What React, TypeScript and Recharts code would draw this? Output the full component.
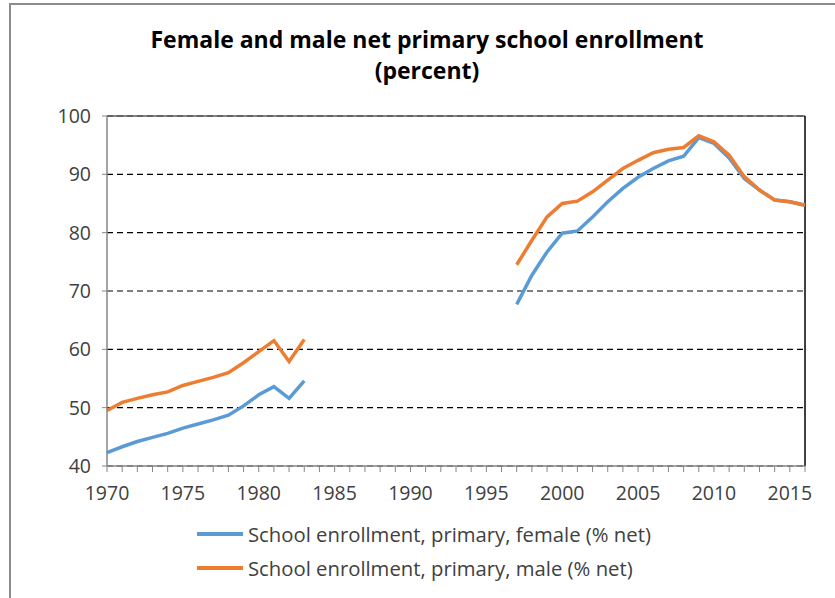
import React from 'react';
import {
  LineChart,
  Line,
  XAxis,
  YAxis,
  CartesianGrid,
  ReferenceLine,
} from 'recharts';

// years shown on the axis (one tick per year)
const years: number[] = [];
for (let y = 1970; y <= 2016; y++) years.push(y);

// 1970-1983
const femaleEarly = [42.3, 43.3, 44.2, 44.9, 45.6, 46.5, 47.2, 47.9, 48.7, 50.3, 52.2, 53.6, 51.6, 54.6];
const maleEarly = [49.5, 50.9, 51.6, 52.2, 52.7, 53.8, 54.5, 55.2, 56.0, 57.7, 59.6, 61.5, 57.9, 61.7];

// 1997-2016
const femaleLate = [67.7, 72.7, 76.7, 79.9, 80.3, 82.7, 85.3, 87.6, 89.5, 91.0, 92.3, 93.1, 96.3, 95.3, 92.8, 89.3, 87.3, 85.6, 85.3, 84.7];
const maleLate = [74.5, 78.7, 82.7, 85.0, 85.4, 87.0, 89.0, 91.0, 92.4, 93.7, 94.3, 94.6, 96.6, 95.6, 93.3, 89.6, 87.3, 85.6, 85.3, 84.7];

const yTicks = [40, 50, 60, 70, 80, 90, 100];

const data = years.map((year) => {
  let female: number | null = null;
  let male: number | null = null;
  if (year <= 1983) {
    female = femaleEarly[year - 1970];
    male = maleEarly[year - 1970];
  } else if (year >= 1997) {
    female = femaleLate[year - 1997];
    male = maleLate[year - 1997];
  }
  return { year, female, male };
});

const BLUE = '#5B9BD5';
const ORANGE = '#ED7D31';
const TEXT = '#404040';
const FONT = '"Open Sans", Calibri, sans-serif';

export default function App() {
  return (
    <div
      style={{
        position: 'absolute',
        left: 0,
        top: 0,
        width: 835,
        height: 598,
        background: '#fff',
        fontFamily: FONT,
        overflow: 'hidden',
      }}
    >
      <div
        style={{
          position: 'absolute',
          left: 9,
          top: 3,
          width: 840,
          height: 600,
          borderLeft: '2px solid #8c8c8c',
          borderTop: '2px solid #8c8c8c',
        }}
      />
      <div
        style={{
          position: 'absolute',
          left: 0,
          width: 854,
          top: 24,
          textAlign: 'center',
          fontWeight: 700,
          fontSize: 23,
          lineHeight: '31px',
          color: '#000',
        }}
      >
        Female and male net primary school enrollment
        <br />
        (percent)
      </div>

      <div style={{ position: 'absolute', left: 0, top: 0 }}>
        <LineChart
          width={835}
          height={598}
          data={data}
          margin={{ top: 116, right: 30, bottom: 102, left: 47 }}
        >
          <CartesianGrid
            horizontal
            vertical={false}
            stroke="#000"
            strokeDasharray="6 4"
            strokeWidth={1.2}
          />
          <XAxis
            dataKey="year"
            type="number"
            domain={[1970, 2016]}
            ticks={years}
            interval={0}
            height={30}
            tickSize={6}
            stroke="#868686"
            tickLine={{ stroke: '#868686' }}
            axisLine={{ stroke: '#868686', strokeWidth: 1.5 }}
            tick={{ fill: TEXT, fontSize: 19.5, fontFamily: FONT, dy: 12 }}
            tickFormatter={(v: number) => (v % 5 === 0 ? String(v) : '')}
          />
          <YAxis
            type="number"
            domain={[40, 100]}
            ticks={yTicks}
            width={60}
            tickSize={5}
            stroke="#868686"
            axisLine={{ stroke: '#868686', strokeWidth: 1.5 }}
            tick={{ fill: TEXT, fontSize: 19.5, fontFamily: FONT, dx: -9 }}
          />
          <ReferenceLine y={100} stroke="#595959" strokeWidth={1.5} />
          <ReferenceLine x={2016} stroke="#000" strokeWidth={1.5} />
          <Line
            type="linear"
            dataKey="female"
            stroke={BLUE}
            strokeWidth={3.5}
            dot={false}
            connectNulls={false}
            isAnimationActive={false}
          />
          <Line
            type="linear"
            dataKey="male"
            stroke={ORANGE}
            strokeWidth={3.5}
            dot={false}
            connectNulls={false}
            isAnimationActive={false}
          />
        </LineChart>
      </div>

      {[
        { label: 'School enrollment, primary, female (% net)', color: BLUE, top: 520 },
        { label: 'School enrollment, primary, male (% net)', color: ORANGE, top: 554 },
      ].map((item) => (
        <div
          key={item.label}
          style={{
            position: 'absolute',
            left: 197,
            top: item.top,
            height: 28,
            display: 'flex',
            alignItems: 'center',
            fontSize: 20.3,
            color: TEXT,
            whiteSpace: 'nowrap',
          }}
        >
          <div style={{ width: 46, height: 3.5, background: item.color, marginRight: 5 }} />
          <span>{item.label}</span>
        </div>
      ))}
    </div>
  );
}
